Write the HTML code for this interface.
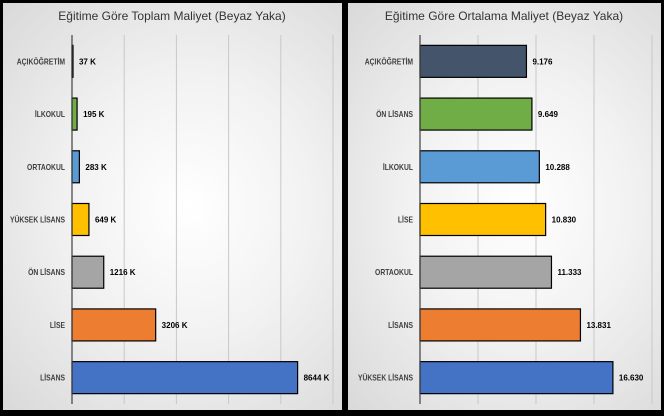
<!DOCTYPE html>
<html><head><meta charset="utf-8"><style>
body{margin:0;width:664px;height:416px;background:#000;overflow:hidden;font-family:"Liberation Sans",sans-serif}
.p{position:absolute;top:3px;height:407px;background:radial-gradient(ellipse at 55% 50%,#ffffff 0%,#f2f2f2 45%,#d9d9d9 100%)}
text{font-family:"Liberation Sans",sans-serif}
</style></head><body>
<div class="p" style="left:3px;width:339px"></div>
<div class="p" style="left:348px;width:313px"></div>
<svg id="s" width="664" height="416" style="position:absolute;left:0;top:0">
<text x="172" y="20" text-anchor="middle" font-size="12" fill="#333">Eğitime Göre Toplam Maliyet (Beyaz Yaka)</text>
<text x="504" y="20" text-anchor="middle" font-size="12" fill="#333">Eğitime Göre Ortalama Maliyet (Beyaz Yaka)</text>
</svg>
<script>
const leftCats=["AÇIKÖĞRETİM","İLKOKUL","ORTAOKUL","YÜKSEK LİSANS","ÖN LİSANS","LİSE","LİSANS"];
const leftVals=[37,195,283,649,1216,3206,8644];
const leftLabels=["37 K","195 K","283 K","649 K","1216 K","3206 K","8644 K"];
const rightCats=["AÇIKÖĞRETİM","ÖN LİSANS","İLKOKUL","LİSE","ORTAOKUL","LİSANS","YÜKSEK LİSANS"];
const rightVals=[9176,9649,10288,10830,11333,13831,16630];
const rightLabels=["9.176","9.649","10.288","10.830","11.333","13.831","16.630"];
const leftTicks=[0,2000,4000,6000,8000,10000];
const rightTicks=[0,5000,10000,15000,20000];
const cols=["#222","#70ad47","#5b9bd5","#ffc000","#a5a5a5","#ed7d31","#4472c4"];
const rcols=["#44546a","#70ad47","#5b9bd5","#ffc000","#a5a5a5","#ed7d31","#4472c4"];
const s=document.getElementById('s'),NS="http://www.w3.org/2000/svg";
function mk(t,a){const e=document.createElementNS(NS,t);for(const k in a)e.setAttribute(k,a[k]);s.appendChild(e);return e;}
function chart(p,cats,vals,labels,ticks,colors,x0,x1,max){
 const top=35,bot=404,band=(bot-top)/cats.length;
 const xs=v=>x0+(x1-x0)*v/max;
 ticks.forEach((t,i)=>{if(i==0)return;const l=mk('line',{x1:xs(t),x2:xs(t),y1:top,y2:bot,stroke:'#c8c8c8','stroke-width':1});
  
  });
 cats.forEach((c,i)=>{const cy=top+band*(i+0.5);
  const r=mk('rect',{x:x0,y:cy-16,width:Math.max(1,xs(vals[i])-x0),height:32,fill:colors[i],stroke:'#000','stroke-width':1.2});
  
  
  const g=mk('g',{transform:'translate('+(x0-7)+','+(cy+3)+') scale(0.85,1)'});
  const t=document.createElementNS(NS,'text');
  t.setAttribute('x',0);t.setAttribute('y',0);t.setAttribute('text-anchor','end');t.setAttribute('font-size',8);t.setAttribute('font-weight','bold');t.setAttribute('fill','#404040');
  t.textContent=c;g.appendChild(t);
  
  
  const v=mk('text',{x:xs(vals[i])+6,y:cy+3,'font-size':8,'font-weight':'bold',fill:'#000'});v.textContent=labels[i];
  
  });
 const a=mk('line',{x1:x0,x2:x0,y1:top,y2:bot,stroke:'#404040','stroke-width':1.2});
 
 
}
chart('left',leftCats,leftVals,leftLabels,leftTicks,cols,72,333,10000);
chart('right',rightCats,rightVals,rightLabels,rightTicks,rcols,420,652,20000);
</script>
</body></html>
